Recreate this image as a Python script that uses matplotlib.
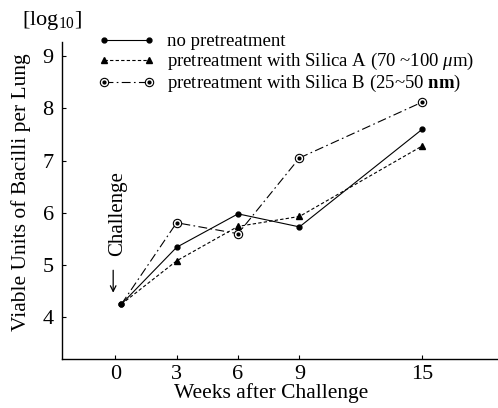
import matplotlib
matplotlib.use("Agg")
import matplotlib.pyplot as plt
from matplotlib.legend_handler import HandlerTuple

plt.rcParams['font.family'] = ['Liberation Serif', 'DejaVu Serif']
plt.rcParams['mathtext.fontset'] = 'custom'
plt.rcParams['mathtext.rm'] = 'Liberation Serif'
plt.rcParams['mathtext.it'] = 'Liberation Serif:italic'
plt.rcParams['mathtext.bf'] = 'Liberation Serif:bold'

weeks = [0.3, 3, 6, 9, 15]
no_pre = [4.25, 5.34, 5.98, 5.73, 7.60]
silica_a = [4.25, 5.08, 5.74, 5.93, 7.28]
silica_b = [4.25, 5.81, 5.60, 7.05, 8.12]

xticks = [0, 3, 6, 9, 15]
yticks = [4, 5, 6, 7, 8, 9]
labels = ["no pretreatment",
          r"pretreatment with Silica A (70 ~100 $\mu$m)",
          r"pretreatment with Silica B (25~50 $\mathbf{nm}$)"]

fig = plt.figure(figsize=(4.98, 4.08), dpi=100)
ax = fig.add_axes([0.1245, 0.12, 0.8755, 0.777])

lw = 0.8
l1, = ax.plot(weeks, no_pre, '-', color='black', lw=lw, marker='o', ms=3.5)
l2, = ax.plot(weeks, silica_a, linestyle=(0, (3, 2)), color='black', lw=lw)
m2, = ax.plot(weeks[1:], silica_a[1:], linestyle='none', marker='^', ms=4, color='black')
l3, = ax.plot(weeks, silica_b, linestyle=(0, (8, 3, 1.5, 3)), color='black', lw=lw)
m3, = ax.plot(weeks[1:], silica_b[1:], linestyle='none', marker='o', ms=6,
              mfc='white', mec='black', mew=0.8)
m3b, = ax.plot(weeks[1:], silica_b[1:], linestyle='none', marker='o', ms=2,
               color='black')
ax.plot(weeks[:1], no_pre[:1], linestyle='none', marker='o', ms=3.5, color='black')

ax.set_xlim(-2.6, 18.7)
ax.set_ylim(3.2, 9.27)
ax.set_xticks(xticks)
ax.set_yticks(yticks)
for s in ['top', 'right']:
    ax.spines[s].set_visible(False)
for s in ['left', 'bottom']:
    ax.spines[s].set_linewidth(1.0)
ax.tick_params(direction='in', length=3, labelsize=16)
ax.tick_params(axis='x', pad=4)
ax.tick_params(axis='y', pad=6)

fig.text(271 / 498, 1 - 393 / 408, "Weeks after Challenge", fontsize=15.5,
         ha='center', va='center')
fig.text(21 / 498, 1 - 192 / 408, "Viable Units of Bacilli per Lung", rotation=90,
         fontsize=15.5, ha='center', va='center')
fig.text(52 / 498, 1 - 21 / 408, r"[log$_{10}$]", fontsize=16, ha='center', va='center')

ax.text(0.1, 5.99, "Challenge", rotation=90, fontsize=15, ha='center', va='center')
ax.annotate("", xy=(-0.1, 4.47), xytext=(-0.1, 4.9),
            arrowprops=dict(arrowstyle='->', color='black', lw=0.9,
                            shrinkA=0, shrinkB=0))

leg = ax.legend([l1, (l2, m2), (l3, m3, m3b)], labels,
                handler_map={tuple: HandlerTuple(ndivide=1)},
                loc='upper left', bbox_to_anchor=(98 / 498, 1 - 33 / 408),
                bbox_transform=fig.transFigure, frameon=False, fontsize=13.5,
                handlelength=3.0, handletextpad=0.7, labelspacing=0.05,
                numpoints=2, borderpad=0, borderaxespad=0)

fig.savefig("out.png", dpi=100)
